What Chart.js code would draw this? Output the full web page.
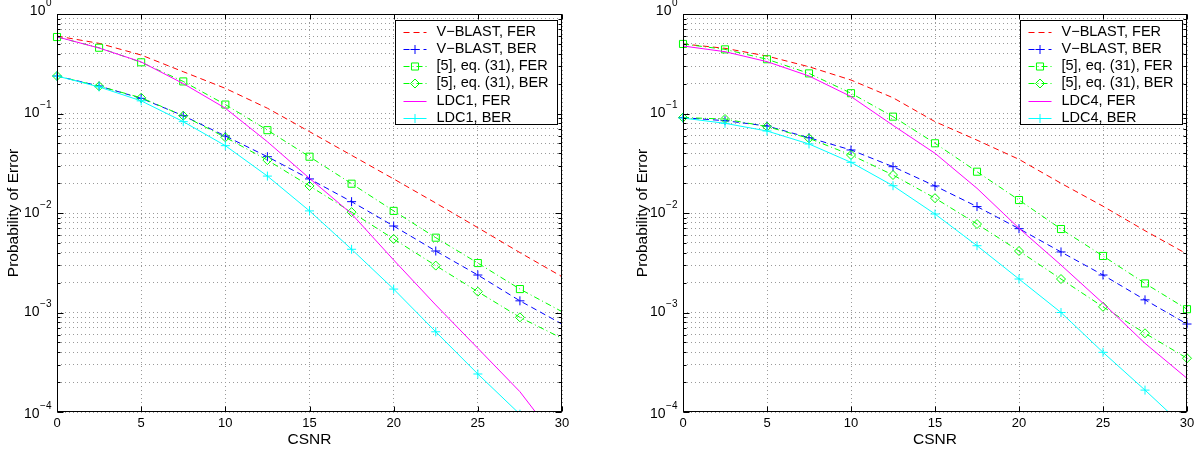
<!DOCTYPE html>
<html>
<head>
<meta charset="utf-8">
<script src="https://cdn.jsdelivr.net/npm/chart.js@4"></script>
<style>
  html, body { margin: 0; padding: 0; background: #fff; }
  #wrap { position: relative; width: 1201px; height: 452px; overflow: hidden; }
  .panel { position: absolute; top: 0; height: 452px; }
  #panel_ldc1 { left: 0; width: 600px; }
  #panel_ldc4 { left: 600px; width: 601px; }
</style>
</head>
<body>
<div id="wrap">
  <div class="panel" id="panel_ldc1"><canvas id="chart_ldc1" width="600" height="452"></canvas></div>
  <div class="panel" id="panel_ldc4"><canvas id="chart_ldc4" width="601" height="452"></canvas></div>
</div>
<script>
// x axis (CSNR) sample points, one every 2.5
const csnr = [0, 2.5, 5, 7.5, 10, 12.5, 15, 17.5, 20, 22.5, 25, 27.5, 30];

// tick labels
const xTickValues = [0, 5, 10, 15, 20, 25, 30];
const yDecadeExponents = [-4, -3, -2, -1, 0];

// left panel: LDC1
const labelsLdc1 = ['V\u2212BLAST, FER', 'V\u2212BLAST, BER', '[5], eq. (31), FER', '[5], eq. (31), BER', 'LDC1, FER', 'LDC1, BER'];
const vblastFer1 = [0.60, 0.507, 0.387, 0.263, 0.179, 0.113, 0.0657, 0.038, 0.022, 0.0126, 0.00712, 0.0040, 0.00229];
const vblastBer1 = [0.238, 0.189, 0.142, 0.095, 0.0594, 0.0368, 0.022, 0.013, 0.0074, 0.00415, 0.00238, 0.00131, 0.000766];
const refFer1    = [0.587, 0.458, 0.327, 0.21, 0.123, 0.068, 0.0368, 0.0197, 0.0105, 0.00565, 0.00314, 0.00172, 0.00102];
const refBer1    = [0.238, 0.188, 0.144, 0.095, 0.0576, 0.034, 0.0187, 0.0102, 0.00548, 0.00296, 0.00162, 0.000894, 0.00055];
const ldcFer1    = [0.59, 0.455, 0.33, 0.20, 0.113, 0.052, 0.0223, 0.0098, 0.00337, 0.00119, 0.000437, 0.00016, 0.000045];
const ldcBer1    = [0.238, 0.185, 0.134, 0.0828, 0.0475, 0.0235, 0.0105, 0.00432, 0.00172, 0.00064, 0.000241, 0.000095, 0.000037];

// right panel: LDC4
const labelsLdc4 = ['V\u2212BLAST, FER', 'V\u2212BLAST, BER', '[5], eq. (31), FER', '[5], eq. (31), BER', 'LDC4, FER', 'LDC4, BER'];
const vblastFer4 = [0.50, 0.452, 0.378, 0.295, 0.217, 0.144, 0.0828, 0.054, 0.0346, 0.0199, 0.0117, 0.00664, 0.00387];
const vblastBer4 = [0.0908, 0.0847, 0.0749, 0.0571, 0.043, 0.0292, 0.0187, 0.0116, 0.00696, 0.00406, 0.00238, 0.00134, 0.000766];
const refFer4    = [0.50, 0.441, 0.351, 0.253, 0.16, 0.093, 0.0502, 0.026, 0.0135, 0.0069, 0.0037, 0.00196, 0.00108];
const refBer4    = [0.091, 0.088, 0.0738, 0.0563, 0.0383, 0.0241, 0.0141, 0.00775, 0.00415, 0.00217, 0.00114, 0.000618, 0.000347];
const ldcFer4    = [0.477, 0.418, 0.332, 0.238, 0.148, 0.076, 0.0398, 0.0177, 0.00702, 0.0030, 0.00124, 0.00049, 0.000218];
const ldcBer4    = [0.09, 0.0797, 0.0667, 0.0494, 0.0323, 0.0188, 0.00977, 0.00469, 0.00217, 0.0010, 0.000398, 0.000166, 0.000067];

const FONT = '"Liberation Sans", Arial, Helvetica, sans-serif';

// matlab-ish line specs, same order as the series
const seriesStyles = [
    { color: '#ff0000', dash: [6, 4], marker: null, radius: 0 },
    { color: '#0000ff', dash: [6, 4], marker: 'cross', radius: 4.5 },
    { color: '#00ff00', dash: [6, 3, 1, 3], marker: 'rect', radius: 5 },
    { color: '#00ff00', dash: [6, 3, 1, 3], marker: 'rectRot', radius: 4.5 },
    { color: '#ff00ff', dash: [], marker: null, radius: 0 },
    { color: '#00ffff', dash: [], marker: 'cross', radius: 4.5 }
];

function logGridValues() {
    const vals = [];
    for (const e of yDecadeExponents) {
        const base = Math.pow(10, e);
        if (e === 0) { vals.push(1); continue; }
        for (let m = 1; m <= 9; m++) vals.push(m * base);
    }
    return vals;
}

function buildDatasets(labels, series, hideLastMarker) {
    return series.map((values, i) => {
        const st = seriesStyles[i];
        const radii = values.map((v, k) => (st.marker && !(hideLastMarker && k === values.length - 1)) ? st.radius : 0);
        return {
            label: labels[i],
            data: values.map((v, k) => ({ x: csnr[k], y: v })),
            borderColor: st.color,
            borderWidth: 1,
            borderDash: st.dash,
            fill: false,
            tension: 0,
            pointStyle: st.marker || 'circle',
            pointRadius: radii,
            pointBorderColor: st.color,
            pointBackgroundColor: 'rgba(0,0,0,0)',
            pointBorderWidth: 1,
            order: series.length - i,
            clip: { left: 8, top: 8, right: 8, bottom: 0 },
            _style: st
        };
    });
}

// axes box, inward ticks, 10^n labels and boxed legend
const matlabFrame = {
    id: 'matlabFrame',
    afterDraw(chart) {
        const ctx = chart.ctx;
        const a = chart.chartArea;
        const xs = chart.scales.x, ys = chart.scales.y;
        const L = Math.round(a.left) + 0.5, R = Math.round(a.right) - 0.5;
        const T = Math.round(a.top) + 0.5, B = Math.round(a.bottom) - 0.5;
        ctx.save();
        ctx.setLineDash([]);
        ctx.strokeStyle = '#000';
        ctx.lineWidth = 1;

        // tick marks
        ctx.beginPath();
        for (const v of xTickValues) {
            const px = Math.round(xs.getPixelForValue(v)) + 0.5;
            ctx.moveTo(px, B); ctx.lineTo(px, B - 5);
            ctx.moveTo(px, T); ctx.lineTo(px, T + 5);
        }
        for (const v of logGridValues()) {
            const py = Math.round(ys.getPixelForValue(v)) + 0.5;
            const isMajor = Math.abs(Math.log10(v) - Math.round(Math.log10(v))) < 1e-9;
            const len = isMajor ? 6 : 3;
            ctx.moveTo(L, py); ctx.lineTo(L + len, py);
            ctx.moveTo(R, py); ctx.lineTo(R - len, py);
        }
        ctx.stroke();
        ctx.strokeRect(L, T, R - L, B - T);

        // y tick labels 10^n
        ctx.fillStyle = '#000';
        ctx.textBaseline = 'middle';
        ctx.textAlign = 'left';
        for (const e of yDecadeExponents) {
            let py = ys.getPixelForValue(Math.pow(10, e));
            if (e === 0) py -= 3;
            if (e === yDecadeExponents[0]) py += 2;
            const expText = e === 0 ? '0' : '\u2212' + Math.abs(e);
            ctx.font = '14px ' + FONT;
            const wBase = ctx.measureText('10').width;
            ctx.font = '10px ' + FONT;
            const wExp = ctx.measureText(expText).width;
            const x0 = a.left - 6 - wBase - wExp;
            ctx.font = '14px ' + FONT;
            ctx.fillText('10', x0, py);
            ctx.font = '10px ' + FONT;
            ctx.fillText(expText, x0 + wBase + 0.5, py - 8);
        }

        // legend
        const items = chart.data.datasets;
        ctx.font = '14.5px ' + FONT;
        let maxW = 0;
        for (const ds of items) maxW = Math.max(maxW, ctx.measureText(ds.label).width);
        const rowH = 17.3;
        const boxW = Math.round(41 + maxW + 9);
        const boxH = Math.round(rowH * items.length + 0.5);
        const bx = Math.round(a.right - 5 - boxW) + 0.5;
        const by = Math.round(a.top + 6) + 0.5;
        ctx.fillStyle = '#fff';
        ctx.fillRect(bx, by, boxW, boxH);
        ctx.strokeStyle = '#000';
        ctx.strokeRect(bx, by, boxW, boxH);
        items.forEach((ds, i) => {
            const st = ds._style;
            const cy = by + 11 + i * rowH;
            ctx.save();
            ctx.strokeStyle = st.color;
            ctx.lineWidth = 1;
            ctx.setLineDash(st.dash);
            ctx.beginPath();
            ctx.moveTo(bx + 8, Math.round(cy) + 0.5);
            ctx.lineTo(bx + 31, Math.round(cy) + 0.5);
            ctx.stroke();
            ctx.setLineDash([]);
            if (st.marker) {
                ctx.fillStyle = 'rgba(0,0,0,0)';
                Chart.helpers.drawPoint(ctx, { pointStyle: st.marker, radius: st.radius, rotation: 0, borderWidth: 1 }, bx + 19.5, Math.round(cy) + 0.5);
            }
            ctx.restore();
            ctx.fillStyle = '#000';
            ctx.font = '14.5px ' + FONT;
            ctx.textAlign = 'left';
            ctx.textBaseline = 'middle';
            ctx.fillText(ds.label, bx + 41, cy);
        });
        ctx.restore();
    }
};

function createConfig(labels, series, layoutPad, yWidth, hideLastMarker) {
    return {
        type: 'line',
        data: { datasets: buildDatasets(labels, series, hideLastMarker) },
        options: {
            responsive: false,
            devicePixelRatio: 1,
            animation: false,
            events: [],
            layout: { padding: layoutPad },
            plugins: { legend: { display: false }, tooltip: { enabled: false } },
            scales: {
                x: {
                    type: 'linear',
                    min: 0, max: 30,
                    afterBuildTicks: (scale) => { scale.ticks = xTickValues.map(v => ({ value: v })); },
                    afterFit: (scale) => { scale.height = 40; },
                    ticks: { color: '#000', padding: 4, font: { family: FONT, size: 13 }, autoSkip: false, maxRotation: 0 },
                    grid: { color: '#9a9a9a', lineWidth: 1, drawTicks: false },
                    border: { display: false, dash: [1, 3] },
                    title: { display: true, text: 'CSNR', color: '#000', font: { family: FONT, size: 15.5 }, padding: { top: 0, bottom: 3 } }
                },
                y: {
                    type: 'logarithmic',
                    min: 1e-4, max: 1,
                    afterBuildTicks: (scale) => { scale.ticks = logGridValues().map(v => ({ value: v })); },
                    afterFit: (scale) => { scale.width = yWidth; },
                    ticks: { display: false, autoSkip: false },
                    grid: { color: '#9a9a9a', lineWidth: 1, drawTicks: false },
                    border: { display: false, dash: [1, 3] },
                    title: { display: true, text: 'Probability of Error', color: '#000', font: { family: FONT, size: 15.5 }, padding: { top: 4, bottom: 0 } }
                }
            }
        },
        plugins: [matlabFrame]
    };
}

new Chart(document.getElementById('chart_ldc1').getContext('2d'),
    createConfig(labelsLdc1, [vblastFer1, vblastBer1, refFer1, refBer1, ldcFer1, ldcBer1],
        { left: 0, right: 38, top: 14, bottom: 0 }, 57, true));

new Chart(document.getElementById('chart_ldc4').getContext('2d'),
    createConfig(labelsLdc4, [vblastFer4, vblastBer4, refFer4, refBer4, ldcFer4, ldcBer4],
        { left: 29, right: 14, top: 14, bottom: 0 }, 54, false));
</script>
</body>
</html>
